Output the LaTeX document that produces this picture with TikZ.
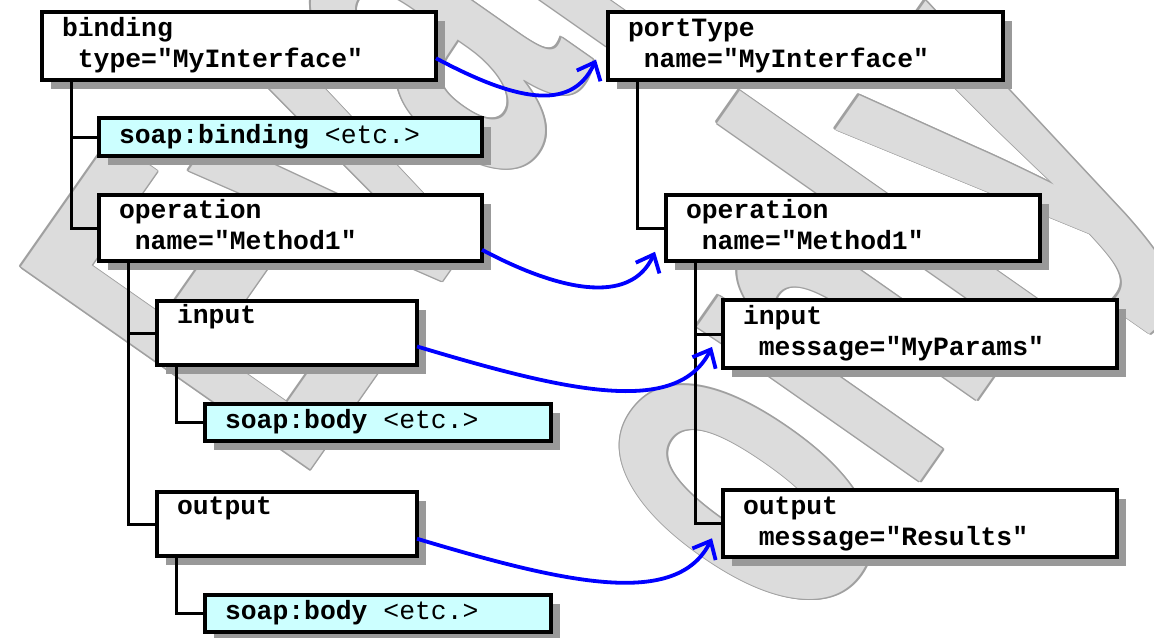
\documentclass[tikz,border=0pt]{standalone}
\usepackage{fontspec}
\newfontfamily\xmlfont{Liberation Mono}
\newfontfamily\wmfont{Liberation Sans}
\usetikzlibrary{arrows.meta,shadows,calc}

\definecolor{shadowgray}{HTML}{999999}
\definecolor{soapcyan}{HTML}{CCFFFF}
\definecolor{wmfill}{HTML}{DCDCDC}
\definecolor{wmline}{HTML}{A0A0A0}

\newcommand\indt{\hphantom{x}}

\tikzset{
  elbox/.style={draw, line width=1.6pt, fill=white, anchor=north west, outer sep=0pt,
    inner xsep=10pt, inner ysep=0pt, align=left,
    font=\xmlfont\bfseries\fontsize{13.2}{15.5}\selectfont,
    drop shadow={shadow xshift=4.5pt, shadow yshift=-4.5pt, fill=shadowgray, opacity=1}},
  soapbox/.style={elbox, fill=soapcyan},
  tree/.style={line width=1.5pt},
  link/.style={->, draw=blue, line width=1.9pt},
  wmark/.style={font=\wmfont\bfseries\fontsize{145}{145}\selectfont, anchor=base west,
    inner sep=0pt, transform shape},
  >={Straight Barb[length=7.5pt,width=13pt]},
}

\begin{document}
\begin{tikzpicture}[x=0.5pt,y=-0.5pt]
      \useasboundingbox (0,0) rectangle (1154,637);
      % watermark in the background
      \begin{scope}[shift={(299,486)}, rotate=55, yscale=1.77]
        \foreach \a in {0,45,...,315} {
          \node[wmark, text=wmline] at (\a:1.2) {Eval};
          \node[wmark, text=wmline] at ($(162,286)+(\a:1.2)$) {only};
        }
        \node[wmark, text=wmfill] (wm1) at (0,0) {Eval};
        \node[wmark, text=wmfill] (wm2) at (162,286) {only};
      \end{scope}

      % binding side
      \node[elbox, text width=177pt, minimum height=34pt] (bind) at (42,12)
        {\strut binding\\\strut\indt type="MyInterface"};
      \node[soapbox, text width=171.5pt, minimum height=19pt] (sbind) at (99,118)
        {\strut soap:binding\indt{\mdseries<etc.>}};
      \node[elbox, text width=171.5pt, minimum height=33pt] (op) at (99,195)
        {\strut operation\\\strut\indt name="Method1"};
      \node[elbox, text width=110pt, minimum height=32pt] (in) at (157,301)
        {\strut input\\\strut};
      \node[soapbox, text width=153pt, minimum height=18.5pt] (sbody1) at (205,404)
        {\strut soap:body\indt{\mdseries<etc.>}};
      \node[elbox, text width=110pt, minimum height=32pt] (out) at (157,492)
        {\strut output\\\strut};
      \node[soapbox, text width=153pt, minimum height=18.5pt] (sbody2) at (205,595)
        {\strut soap:body\indt{\mdseries<etc.>}};

      % portType side
      \node[elbox, text width=177.5pt, minimum height=34pt] (ptype) at (608,12)
        {\strut portType\\\strut\indt name="MyInterface"};
      \node[elbox, text width=167pt, minimum height=33pt] (rop) at (666,195)
        {\strut operation\\\strut\indt name="Method1"};
      \node[elbox, text width=177pt, minimum height=34pt] (rin) at (723,300)
        {\strut input\\\strut\indt message="MyParams"};
      \node[elbox, text width=177pt, minimum height=33.5pt] (rout) at (723,490)
        {\strut output\\\strut\indt message="Results"};

      % tree lines
      \draw[tree] ([xshift=14.5pt]bind.south west) |- (sbind.west);
      \draw[tree] ([xshift=14.5pt]bind.south west) |- (op.west);
      \draw[tree] ([xshift=14.5pt]op.south west) |- (in.west);
      \draw[tree] ([xshift=14.5pt]op.south west) |- (out.west);
      \draw[tree] ([xshift=9.5pt]in.south west) |- (sbody1.west);
      \draw[tree] ([xshift=9.5pt]out.south west) |- (sbody2.west);
      \draw[tree] ([xshift=14.5pt]ptype.south west) |- (rop.west);
      \draw[tree] ([xshift=14.5pt]rop.south west) |- (rin.west);
      \draw[tree] ([xshift=14.5pt]rop.south west) |- (rout.west);

      % links between the two sides
      \draw[link] ($(bind.north east)!0.68!(bind.south east)$)
        .. controls +(75,40) and +(-25,55) .. ($(ptype.north west)!0.7!(ptype.south west)+(-12,0)$);
      \draw[link] ($(op.north east)!0.83!(op.south east)$)
        .. controls +(75,40) and +(-25,55) .. ($(rop.north west)!0.86!(rop.south west)+(-11,0)$);
      \draw[link] ($(in.north east)!0.71!(in.south east)$)
        .. controls +(150,45) and +(-35,70) .. ($(rin.north west)!0.69!(rin.south west)+(-11,0)$);
      \draw[link] ($(out.north east)!0.73!(out.south east)$)
        .. controls +(150,45) and +(-35,70) .. ($(rout.north west)!0.72!(rout.south west)+(-11,0)$);
\end{tikzpicture}
\end{document}
